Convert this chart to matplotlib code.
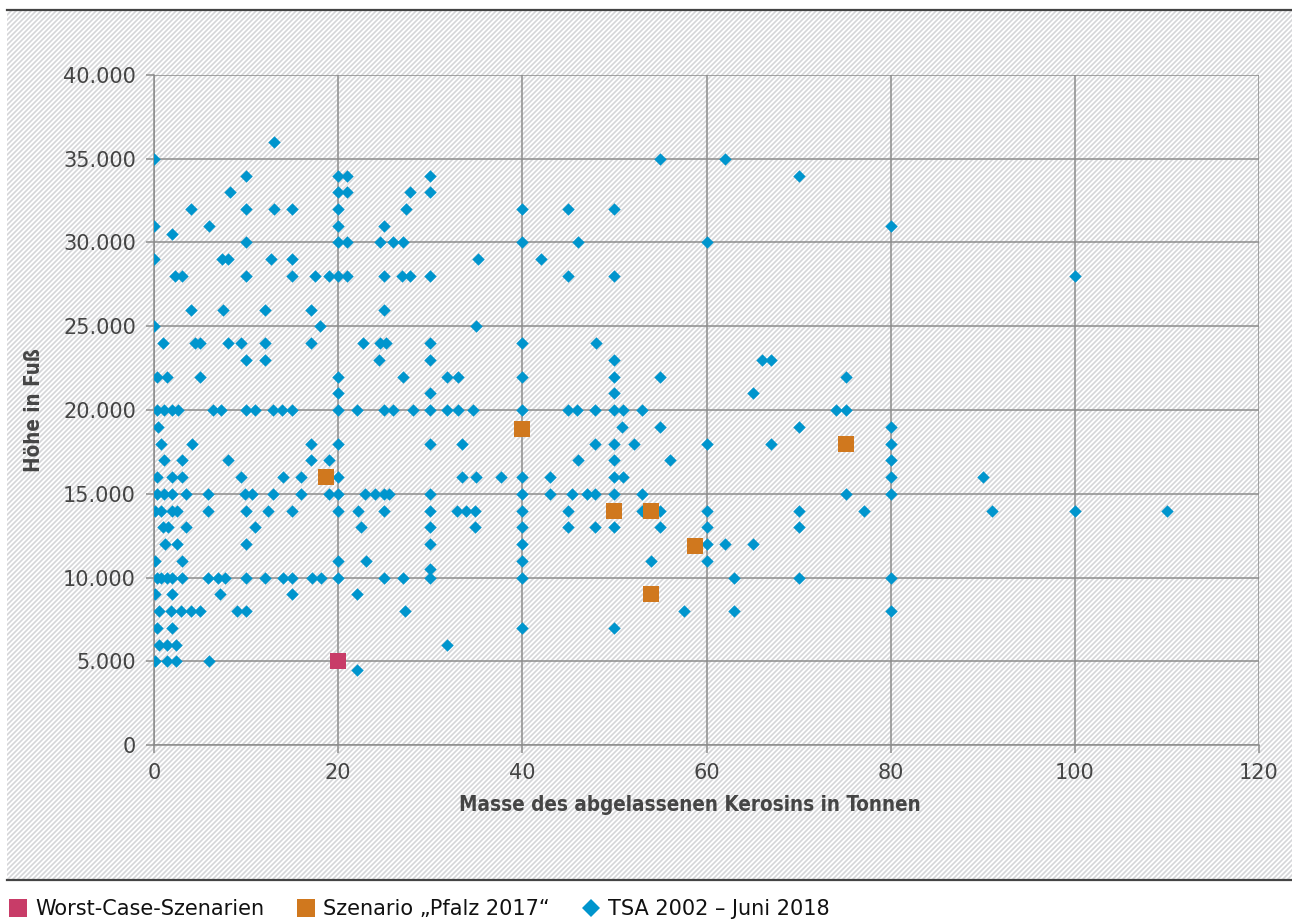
import os
import numpy as np
import matplotlib
matplotlib.use("Agg")
import matplotlib.pyplot as plt
from matplotlib import font_manager as fm
from matplotlib.patches import Rectangle
from matplotlib.lines import Line2D
from matplotlib.collections import LineCollection
from matplotlib.ticker import FuncFormatter

# ---------------- data ----------------
tsa_heights = [36000, 35000, 34000, 33000, 32000, 31000, 30500, 30000, 29000, 28000,
               26000, 25000, 24000, 23000, 22000, 21000, 20000, 19000, 18000, 17000,
               16000, 15000, 14000, 13000, 12000, 11000, 10500, 10000, 9000, 8000,
               7000, 6000, 5000, 4500]
tsa_masses = [
    [13],
    [0, 55, 62],
    [10, 20, 21, 30, 70],
    [8.2, 20, 21, 27.8, 30],
    [4, 10, 13, 15, 20, 27.4, 40, 45, 50],
    [0, 6, 20, 25, 80],
    [2],
    [10, 20, 21, 24.5, 26, 27, 40, 46, 60],
    [0, 7.4, 8, 12.7, 15, 35.2, 42],
    [2.3, 3, 10, 15, 17.5, 19, 20, 21, 25, 26.9, 27.8, 30, 45, 50, 100],
    [4, 7.5, 12, 17, 25],
    [0, 18, 35],
    [1, 4.5, 5, 8, 9.5, 12, 17, 22.7, 24.5, 25.2, 30, 40, 48],
    [10, 12, 24.4, 30, 50, 66, 67],
    [0.3, 1.4, 5, 20, 27, 31.8, 33, 40, 50, 55, 75.2],
    [20, 30, 50, 65],
    [0.3, 1.1, 2, 2.6, 6.4, 7.3, 10, 11, 12.9, 13.9, 15, 20, 22, 25, 26, 28.1, 30,
     31.8, 33, 34.6, 40, 45, 45.9, 47.9, 50, 50.9, 53, 74.1, 75.2],
    [0.4, 50.8, 55, 70, 80],
    [0.8, 4.1, 17, 20, 30, 33.4, 47.9, 50, 52.1, 60, 67, 80],
    [1.1, 3, 8, 17, 19, 46, 50, 56, 80],
    [0.3, 2, 3, 9.5, 14, 16, 20, 33.5, 35, 37.7, 40, 43, 50, 50.9, 80, 90],
    [0.3, 1.1, 2, 3.5, 5.9, 9.9, 10.6, 12.9, 16, 19, 20, 22.9, 24, 25, 25.5, 30, 40,
     43, 45.4, 47, 47.9, 50, 53, 75.2, 80],
    [0.1, 0.8, 2, 2.5, 5.9, 10, 12.4, 15, 20, 22.2, 25, 30, 32.9, 33.9, 34.9, 40, 45,
     53, 55, 60, 70, 77.1, 91, 100, 110],
    [1, 1.55, 3.5, 11, 22.5, 30, 34.9, 40, 45, 47.9, 50, 55, 60, 70],
    [1.2, 2.5, 10, 30, 40, 60, 62, 65],
    [0.1, 3, 20, 23, 40, 54, 60],
    [30],
    [0.3, 0.8, 1.4, 2, 3, 5.9, 6.9, 7.7, 10, 12, 14, 15, 17.2, 18.1, 20, 25, 27, 30,
     40, 63, 70, 80],
    [0.1, 2, 7.2, 15, 22],
    [0.5, 1.9, 2.9, 4, 5, 9, 10, 27.3, 57.6, 63, 80],
    [0.3, 2, 40, 50],
    [0.5, 1.4, 2.35, 31.8],
    [0.1, 1.4, 2.35, 6],
    [22],
]

pfalz_mass = [18.7, 40, 50, 54, 54, 58.8, 75.2]
pfalz_height = [16000, 18850, 14000, 14000, 9000, 11900, 17950]

worst_mass = [20]
worst_height = [5000]

x_ticks = [0, 20, 40, 60, 80, 100, 120]
y_ticks = [0, 5000, 10000, 15000, 20000, 25000, 30000, 35000, 40000]

x_label = "Masse des abgelassenen Kerosins in Tonnen"
y_label = "Höhe in Fuß"
legend_labels = ["Worst-Case-Szenarien", "Szenario \u201ePfalz 2017\u201c", "TSA 2002 \u2013 Juni 2018"]

# ---------------- style ----------------
BLUE = "#0095CD"
ORANGE = "#D0781E"
PINK = "#C83C68"
GRID = "#8c8c8c"
TXT = "#454545"

plt.rcParams["font.family"] = ["DejaVu Sans"]

# find a condensed bold font for axis titles
bold_fp = None
for f in fm.fontManager.ttflist:
    b = os.path.basename(f.fname)
    if ("Condensed-Bold." in b or "Narrow-Bold." in b or "SansNarrow-Bold" in b) and "Oblique" not in b and "Italic" not in b:
        bold_fp = fm.FontProperties(fname=f.fname, size=14.8)
        break
if bold_fp is None:
    bold_fp = fm.FontProperties(family="Liberation Sans", weight="bold", size=15)

W, H = 1292, 924
fig = plt.figure(figsize=(W / 100, H / 100), dpi=100)
fig.patch.set_facecolor("white")

# hatched background (diagonal stripes, drawn in pixel space)
bx0, bx1, by0, by1 = 7, W, 10, 880  # pixel box (top-left origin)
bg = Rectangle((bx0 / W, 1 - by1 / H), (bx1 - bx0) / W, (by1 - by0) / H,
               transform=fig.transFigure, facecolor="white", edgecolor="none", zorder=-10)
fig.patches.append(bg)
period = 5
segs = []
c = -(by1 - by0)
while c < (bx1 - bx0):
    x_start = bx0 + c
    segs.append([((x_start) / W, (1 - by1 / H)),
                 ((x_start + (by1 - by0)) / W, (1 - by0 / H))])
    c += period
lc = LineCollection(segs, transform=fig.transFigure, colors="#d5d6d8", linewidths=1.2,
                    zorder=-9)
fig.add_artist(lc)
lc.set_clip_path(bg)

fig.add_artist(Line2D([bx0 / W, 1], [1 - by0 / H, 1 - by0 / H], transform=fig.transFigure,
                      color="#444444", lw=1.6))
fig.add_artist(Line2D([bx0 / W, 1], [1 - by1 / H, 1 - by1 / H], transform=fig.transFigure,
                      color="#444444", lw=1.6))

ax = fig.add_axes([154 / W, 1 - 745 / H, (1259 - 154) / W, (745 - 75) / H])
ax.set_facecolor("none")

tx = [m for ms in tsa_masses for m in ms]
ty = [h for h, ms in zip(tsa_heights, tsa_masses) for _ in ms]

ax.scatter(tx, ty, marker="D", s=40, color=BLUE, linewidths=0, zorder=3)
ax.scatter(pfalz_mass, pfalz_height, marker="s", s=128, color=ORANGE, linewidths=0, zorder=4)
ax.scatter(worst_mass, worst_height, marker="s", s=128, color=PINK, linewidths=0, zorder=5)

ax.set_xlim(0, 120)
ax.set_ylim(0, 40000)
ax.set_xticks(x_ticks)
ax.set_yticks(y_ticks)
ax.yaxis.set_major_formatter(FuncFormatter(lambda v, p: f"{v:,.0f}".replace(",", ".")))
ax.grid(True, color=GRID, lw=1.1, zorder=1)
ax.set_axisbelow(True)
for s in ["top", "right"]:
    ax.spines[s].set_visible(False)
for s in ["left", "bottom"]:
    ax.spines[s].set_color(GRID)
    ax.spines[s].set_linewidth(1.1)
ax.tick_params(axis="both", which="major", direction="out", length=6, width=1.1,
               color=GRID, labelsize=15, labelcolor=TXT, pad=7)

ax.set_xlabel(x_label, fontproperties=bold_fp, color=TXT)
ax.xaxis.set_label_coords((689.5 - 154) / (1259 - 154), -(805 - 745) / (745 - 75))
ax.xaxis.label.set_va("center")
ax.set_ylabel(y_label, fontproperties=bold_fp, color=TXT, labelpad=14)

handles = [
    Line2D([], [], marker="s", linestyle="none", markersize=13, color=PINK, markeredgewidth=0),
    Line2D([], [], marker="s", linestyle="none", markersize=13, color=ORANGE, markeredgewidth=0),
    Line2D([], [], marker="D", linestyle="none", markersize=9, color=BLUE, markeredgewidth=0),
]
fig.legend(handles, legend_labels, loc="center left", bbox_to_anchor=(8 / W, 1 - 909 / H),
           ncol=3, frameon=False, fontsize=15, handlelength=1.0, handletextpad=0.3,
           columnspacing=1.5, borderpad=0, borderaxespad=0, labelcolor="#111111")

fig.savefig("out.png", dpi=100, facecolor="white")
